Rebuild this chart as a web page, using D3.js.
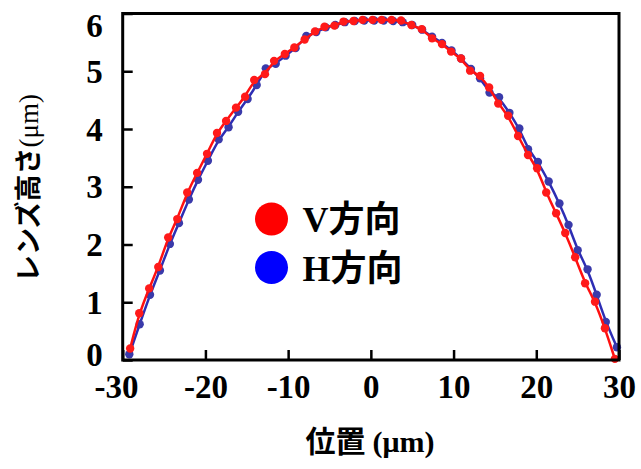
<!DOCTYPE html>
<html>
<head>
<meta charset="utf-8">
<script src="https://cdn.jsdelivr.net/npm/d3@7"></script>
<style>
  body { margin: 0; background: #fff; }
  svg { display: block; }
</style>
</head>
<body>
<svg id="chart" width="641" height="469"></svg>
<script>
// Lens height profile measured along the V and H directions (µm)
const vPos = [-29.1, -28.0, -26.8, -25.7, -24.5, -23.4, -22.2, -21.0, -19.8, -18.6,
              -17.5, -16.3, -15.2, -14.1, -12.8, -11.7, -10.4, -9.25, -8.0, -6.75,
              -5.6, -4.4, -3.3, -2.1, -1.0, 0.2, 1.3, 2.5, 3.65, 4.9,
              6.15, 7.4, 8.6, 9.7, 10.9, 12.0, 13.2, 14.3, 15.4, 16.6,
              17.8, 19.0, 20.1, 21.2, 22.4, 23.5, 24.7, 25.9, 27.1, 28.3, 29.5];
const vHeight = [0.20, 0.81, 1.24, 1.61, 2.12, 2.44, 2.90, 3.24, 3.57, 3.93,
                 4.14, 4.37, 4.56, 4.85, 4.95, 5.18, 5.30, 5.41, 5.55, 5.69,
                 5.77, 5.79, 5.86, 5.87, 5.89, 5.89, 5.89, 5.89, 5.88, 5.80,
                 5.73, 5.57, 5.47, 5.34, 5.22, 5.01, 4.92, 4.72, 4.44, 4.23,
                 3.88, 3.55, 3.32, 2.90, 2.54, 2.20, 1.78, 1.33, 1.01, 0.55, 0.02];

const hPos = [-29.2, -27.95, -26.7, -25.5, -24.3, -23.2, -22.0, -20.9, -19.7, -18.4,
              -17.2, -16.05, -14.9, -13.8, -12.7, -11.5, -10.3, -9.1, -7.8, -6.6,
              -5.45, -4.3, -3.15, -1.95, -0.8, 0.4, 1.55, 2.7, 3.85, 5.0,
              6.2, 7.4, 8.6, 9.75, 10.9, 12.1, 13.2, 14.35, 15.5, 16.75,
              17.95, 19.0, 20.2, 21.5, 22.8, 23.9, 25.0, 26.2, 27.3, 28.4, 29.75];
const hHeight = [0.10, 0.62, 1.13, 1.55, 2.01, 2.37, 2.78, 3.12, 3.45, 3.82,
                 4.03, 4.30, 4.52, 4.76, 5.05, 5.13, 5.27, 5.40, 5.61, 5.68,
                 5.76, 5.80, 5.85, 5.87, 5.88, 5.88, 5.88, 5.87, 5.85, 5.80,
                 5.72, 5.60, 5.49, 5.36, 5.22, 5.04, 4.88, 4.63, 4.55, 4.28,
                 4.01, 3.65, 3.43, 3.09, 2.71, 2.34, 1.90, 1.57, 1.13, 0.66, 0.22];

const xTicks = [-30, -20, -10, 0, 10, 20, 30];
const yTicks = [0, 1, 2, 3, 4, 5, 6];
const seriesLabels = [["V", "方向"], ["H", "方向"]];

const serif = "'Liberation Serif', 'Times New Roman', serif";
const cjk = "'Noto Sans CJK JP', 'Noto Sans', sans-serif";

const svg = d3.select("#chart");
const plot = { left: 122.7, right: 619, top: 13.5, bottom: 360 };

const x = d3.scaleLinear().domain([-30, 30]).range([plot.left, plot.right]);
const y = d3.scaleLinear().domain([0, 6]).range([plot.bottom, plot.top]);

const toPoints = (xs, ys) => xs.map((d, i) => ({ x: d, y: ys[i] }));
const series = [
  { name: "H", pts: toPoints(hPos, hHeight), line: "#2d2db4", dot: "#3a3aaa" },
  { name: "V", pts: toPoints(vPos, vHeight), line: "#ff1010", dot: "#ff1a1a" }
];

// axes with inward ticks; plain hyphen for negative labels
const fmt = d => String(d);
const xAxis = d3.axisBottom(x).tickValues(xTicks).tickSizeInner(-10).tickSizeOuter(0).tickPadding(15).tickFormat(fmt);
const yAxis = d3.axisLeft(y).tickValues(yTicks).tickSizeInner(-10).tickSizeOuter(0).tickPadding(20).tickFormat(fmt);

const gx = svg.append("g").attr("transform", `translate(0,${plot.bottom})`).call(xAxis);
const gy = svg.append("g").attr("transform", `translate(${plot.left},0)`).call(yAxis);

[gx, gy].forEach(g => {
  g.select(".domain").remove();
  g.selectAll(".tick line").attr("stroke", "#000").attr("stroke-width", 2.5);
  g.selectAll(".tick text")
    .attr("fill", "#000")
    .style("font-family", serif)
    .style("font-weight", "bold")
    .style("font-size", "33px");
});
gx.selectAll(".tick text").attr("dx", d => d === -30 ? "-0.2em" : 0);
gy.selectAll(".tick text").attr("dy", d => d === 6 ? "0.7em" : d === 0 ? "0.18em" : "0.34em");

// fitted profiles and measured points
const line = d3.line().x(d => x(d.x)).y(d => y(d.y)).curve(d3.curveBasis);
series.forEach(s => {
  svg.append("path").datum(s.pts)
    .attr("d", line)
    .attr("fill", "none")
    .attr("stroke", s.line)
    .attr("stroke-width", 2.5);
  svg.append("g").selectAll("circle").data(s.pts).join("circle")
    .attr("cx", d => x(d.x))
    .attr("cy", d => y(d.y))
    .attr("r", 4.2)
    .attr("fill", s.dot);
});

// frame
svg.append("rect")
  .attr("x", plot.left).attr("y", plot.top)
  .attr("width", plot.right - plot.left).attr("height", plot.bottom - plot.top)
  .attr("fill", "none").attr("stroke", "#000").attr("stroke-width", 3);

// legend
const legend = svg.append("g").attr("transform", "translate(271.5,219)");
const legendItems = [{ lab: seriesLabels[0], color: "#ff0000" }, { lab: seriesLabels[1], color: "#0000ff" }];
legendItems.forEach((it, i) => {
  const g = legend.append("g").attr("transform", `translate(0,${i * 48.5})`);
  g.append("circle").attr("r", 16.5).attr("fill", it.color);
  const t = g.append("text").attr("x", 31).attr("y", 13).attr("fill", "#000");
  t.append("tspan").text(it.lab[0])
    .style("font-family", serif).style("font-weight", "bold").style("font-size", "36px");
  t.append("tspan").text(it.lab[1])
    .style("font-family", cjk).style("font-weight", "bold").style("font-size", "36px");
});

// axis titles
const xt = svg.append("text")
  .attr("x", 370).attr("y", 452).attr("text-anchor", "middle").attr("fill", "#000");
xt.append("tspan").text("位置 ").style("font-family", cjk).style("font-weight", "bold").style("font-size", "30px");
xt.append("tspan").text("(μm)").style("font-family", serif).style("font-weight", "bold").style("font-size", "30px");

const yt = svg.append("text")
  .attr("transform", "translate(38,188) rotate(-90)")
  .attr("text-anchor", "middle").attr("fill", "#000");
yt.append("tspan").text("レンズ高さ").style("font-family", cjk).style("font-weight", "bold").style("font-size", "27px");
yt.append("tspan").text("(μm)").style("font-family", serif).style("font-size", "27px");
</script>
</body>
</html>
